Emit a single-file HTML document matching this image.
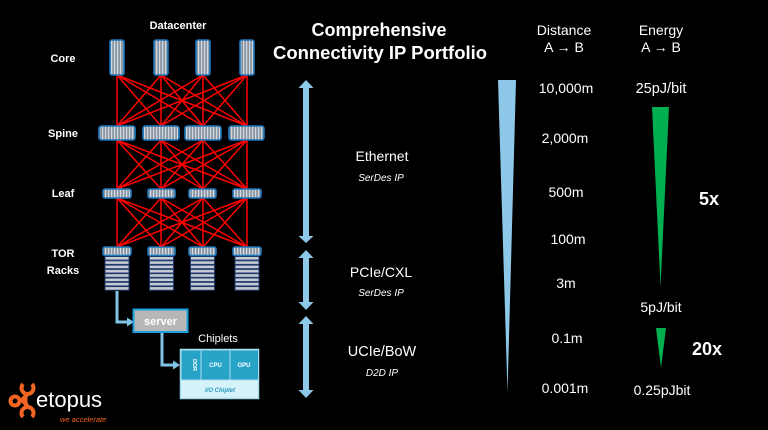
<!DOCTYPE html>
<html><head><meta charset="utf-8"><style>
html,body{margin:0;padding:0;background:#000;}
svg{display:block;}
text{font-family:"Liberation Sans",sans-serif;fill:#fff;}
</style></head><body>
<svg width="768" height="430" viewBox="0 0 768 430" xmlns="http://www.w3.org/2000/svg">
<defs>
<pattern id="vs" width="3" height="40" patternUnits="userSpaceOnUse"><rect width="3" height="40" fill="#8a96a3"/><rect width="1.2" height="40" fill="#d3d9df"/></pattern>
</defs>
<rect width="768" height="430" fill="#000"/>

<!-- network mesh -->
<g stroke="#ff0000" stroke-width="1.5" fill="none">
<path d="M117 75L117 126M117 75L161 126M117 75L203 126M117 75L247 126
M161 75L117 126M161 75L161 126M161 75L203 126M161 75L247 126
M203 75L117 126M203 75L161 126M203 75L203 126M203 75L247 126
M247 75L117 126M247 75L161 126M247 75L203 126M247 75L247 126"/>
<path d="M117 140L117 189M117 140L161 189M117 140L203 189M117 140L247 189
M161 140L117 189M161 140L161 189M161 140L203 189M161 140L247 189
M203 140L117 189M203 140L161 189M203 140L203 189M203 140L247 189
M247 140L117 189M247 140L161 189M247 140L203 189M247 140L247 189"/>
<path d="M117 198L117 247M117 198L161 247M117 198L203 247M117 198L247 247
M161 198L117 247M161 198L161 247M161 198L203 247M161 198L247 247
M203 198L117 247M203 198L161 247M203 198L203 247M203 198L247 247
M247 198L117 247M247 198L161 247M247 198L203 247M247 198L247 247"/>
</g>

<!-- switches -->
<g stroke="#1b75bb" stroke-width="1.6" fill="url(#vs)">
<rect x="110" y="40" width="14" height="35" rx="2"/>
<rect x="154" y="40" width="14" height="35" rx="2"/>
<rect x="196" y="40" width="14" height="35" rx="2"/>
<rect x="240" y="40" width="14" height="35" rx="2"/>
<rect x="99" y="126" width="36" height="14" rx="2.5"/>
<rect x="143" y="126" width="36" height="14" rx="2.5"/>
<rect x="185" y="126" width="36" height="14" rx="2.5"/>
<rect x="229" y="126" width="35" height="14" rx="2.5"/>
<rect x="103" y="189" width="28" height="9" rx="2"/>
<rect x="148" y="189" width="27" height="9" rx="2"/>
<rect x="189" y="189" width="27" height="9" rx="2"/>
<rect x="233" y="189" width="28" height="9" rx="2"/>
<rect x="103" y="247" width="28" height="8.5" rx="2"/>
<rect x="148" y="247" width="27" height="8.5" rx="2"/>
<rect x="189" y="247" width="27" height="8.5" rx="2"/>
<rect x="233" y="247" width="28" height="8.5" rx="2"/>
</g>

<!-- racks -->
<g fill="#c6cad2" stroke="#1f3a6e" stroke-width="1">
<g id="rk">
<rect x="105" y="256.5" width="24" height="3.6"/>
<rect x="105" y="260.8" width="24" height="3.6"/>
<rect x="105" y="265.1" width="24" height="3.6"/>
<rect x="105" y="269.4" width="24" height="3.6"/>
<rect x="105" y="273.7" width="24" height="3.6"/>
<rect x="105" y="278" width="24" height="3.6"/>
<rect x="105" y="282.3" width="24" height="3.6"/>
<rect x="105" y="286.6" width="24" height="3.6"/>
</g>
<use href="#rk" x="44.5"/>
<use href="#rk" x="85.5"/>
<use href="#rk" x="130"/>
</g>

<!-- connectors -->
<g stroke="#7fc4e6" stroke-width="3" fill="none">
<path d="M117 291V322H129"/>
<path d="M162 333V365H175"/>
</g>
<g fill="#7fc4e6">
<polygon points="127,317.5 134,322 127,326.5"/>
<polygon points="173,360.5 180,365 173,369.5"/>
</g>

<!-- server -->
<rect x="133.5" y="309.5" width="54" height="22.5" fill="#b7b7b7" stroke="#1aa0dc" stroke-width="2"/>
<text x="160.5" y="325" font-size="11" font-weight="bold" text-anchor="middle">server</text>

<!-- chiplets -->
<text x="218" y="342" font-size="11" text-anchor="middle">Chiplets</text>
<rect x="180.5" y="349.5" width="78" height="49" fill="#d6f2fb" stroke="#a8dcef" stroke-width="1.5"/>
<rect x="181" y="350" width="20" height="30" fill="#27a3c8" stroke="#a8dcef" stroke-width="1"/>
<rect x="201" y="350" width="29" height="30" fill="#27a3c8" stroke="#a8dcef" stroke-width="1"/>
<rect x="230" y="350" width="28.5" height="30" fill="#27a3c8" stroke="#a8dcef" stroke-width="1"/>
<text x="0" y="0" font-size="5.5" font-weight="bold" text-anchor="middle" transform="translate(193,365) rotate(90)">DDR</text>
<text x="215.5" y="367" font-size="6" font-weight="bold" text-anchor="middle">CPU</text>
<text x="244" y="367" font-size="6" font-weight="bold" text-anchor="middle">GPU</text>
<text x="220" y="392" font-size="6" font-style="italic" font-weight="bold" text-anchor="middle" style="fill:#2a9bc0">I/O Chiplet</text>

<!-- left labels -->
<g font-size="11" font-weight="bold" text-anchor="middle">
<text x="178" y="29">Datacenter</text>
<text x="63" y="62">Core</text>
<text x="63" y="137">Spine</text>
<text x="63" y="197">Leaf</text>
<text x="63" y="257">TOR</text>
<text x="63" y="274">Racks</text>
</g>

<!-- title -->
<g font-size="18" font-weight="bold" text-anchor="middle">
<text x="379" y="36">Comprehensive</text>
<text x="380" y="59" textLength="214" lengthAdjust="spacingAndGlyphs">Connectivity IP Portfolio</text>
</g>

<!-- double arrows -->
<g fill="#8dc8e8">
<polygon points="306,80 313.5,88 309,88 309,236 313.5,236 306,243 298.5,236 303,236 303,88 298.5,88"/>
<polygon points="306,250 313.5,258 309,258 309,302 313.5,302 306,310 298.5,302 303,302 303,258 298.5,258"/>
<polygon points="306,316 313.5,324 309,324 309,390 313.5,390 306,398 298.5,390 303,390 303,324 298.5,324"/>
</g>

<!-- protocol labels -->
<g text-anchor="middle">
<text x="382" y="161" font-size="14">Ethernet</text>
<text x="381" y="181" font-size="10" font-style="italic">SerDes IP</text>
<text x="381" y="277" font-size="14">PCIe/CXL</text>
<text x="381" y="296" font-size="10" font-style="italic">SerDes IP</text>
<text x="382" y="356" font-size="14.5">UCIe/BoW</text>
<text x="382" y="376" font-size="10" font-style="italic">D2D IP</text>
</g>

<!-- distance wedge -->
<polygon points="498,80 516,80 507.5,393" fill="#8dc8e8"/>

<!-- distance column -->
<g text-anchor="middle" font-size="14">
<text x="564" y="35">Distance</text>
<text x="564" y="52">A → B</text>
<text x="566" y="93">10,000m</text>
<text x="565" y="143">2,000m</text>
<text x="566" y="197">500m</text>
<text x="568" y="244">100m</text>
<text x="566" y="288">3m</text>
<text x="567" y="343">0.1m</text>
<text x="565" y="393">0.001m</text>
</g>

<!-- energy column -->
<g text-anchor="middle" font-size="14">
<text x="661" y="35">Energy</text>
<text x="661" y="52">A → B</text>
<text x="661" y="93" font-size="14.5">25pJ/bit</text>
<text x="661" y="312">5pJ/bit</text>
<text x="662" y="395">0.25pJbit</text>
</g>
<polygon points="652,107 669,107 660.5,287" fill="#00b050"/>
<polygon points="656,328 666,328 661,368" fill="#00b050"/>
<text x="709" y="205" font-size="18" font-weight="bold" text-anchor="middle">5x</text>
<text x="707" y="355" font-size="18" font-weight="bold" text-anchor="middle">20x</text>

<!-- logo -->
<g fill="none" stroke="#f26522" stroke-width="4">
<circle cx="15" cy="401" r="4.5"/>
<path d="M23 384 A6 6 0 1 0 32 384"/>
<path d="M23 417 A6 6 0 1 1 32 417"/>
<path d="M22 400 L27.5 394 M22 400 L27.5 406"/>
</g>
<path d="M20 400 L27.5 393 L27.5 407 Z" fill="#f26522"/>
<text x="36" y="407" font-size="22">etopus</text>
<text x="60" y="422" font-size="7.5" font-style="italic" style="fill:#f26522">we accelerate</text>
</svg>
</body></html>
